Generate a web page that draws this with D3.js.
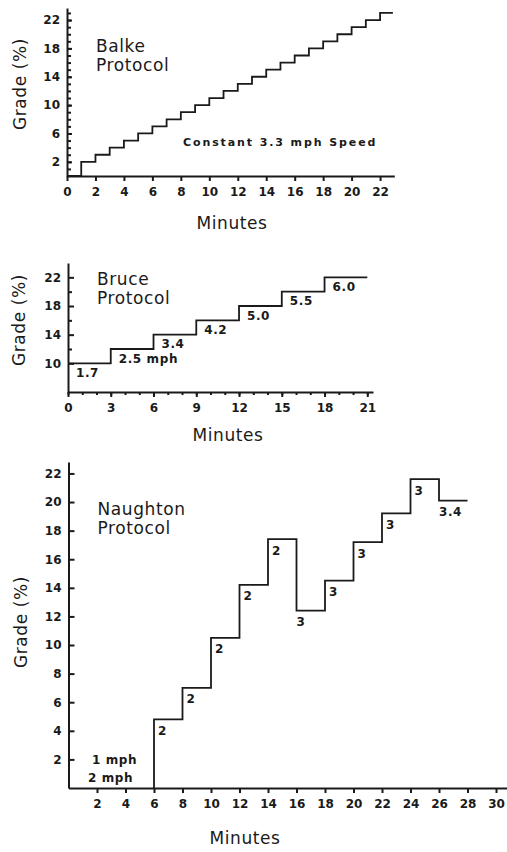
<!DOCTYPE html>
<html>
<head>
  <title>Treadmill Protocols</title>
  <style>
    body { margin: 0; background: #fff; }
    .chart { font-family: "DejaVu Sans", sans-serif; }
    .chart .axis path, .chart .axis line { stroke: #1a1a1a; stroke-width: 2; }
    .chart .axis .minor line { stroke-width: 1.5; }
    .chart .axis text { font-size: 12px; font-weight: bold; fill: #1a1a1a; font-family: "DejaVu Sans", sans-serif; }
    .chart .step { fill: none; stroke: #1a1a1a; stroke-width: 1.8; }
    .chart .title, .chart .label { font-size: 17px; fill: #1a1a1a; letter-spacing: 0.6px; }
    .chart .speed { font-size: 12px; font-weight: bold; fill: #1a1a1a; letter-spacing: 0.6px; }
    .chart .note { font-size: 11px; font-weight: bold; fill: #1a1a1a; letter-spacing: 1.9px; }
  </style>
</head>
<body>
  <svg id="chart" class="chart" width="507" height="852"></svg>

  <script src="https://d3js.org/d3.v7.min.js"></script>
  <script>
    // Balke: constant 3.3 mph, grade steps every minute
    const balkeStart = [0, 1, 2, 3, 4, 5, 6, 7, 8, 9, 10, 11, 12, 13, 14, 15, 16, 17, 18, 19, 20, 21, 22];
    const balkeGrade = [0, 2, 3, 4, 5, 6, 7, 8, 9, 10, 11, 12, 13, 14, 15, 16, 17, 18, 19, 20, 21, 22, 23];
    const balkeEnd = 22.9;
    const balkeXTicks = [0, 2, 4, 6, 8, 10, 12, 14, 16, 18, 20, 22];
    const balkeYTicks = [2, 6, 10, 14, 18, 22];
    const balkeNote = 'Constant 3.3 mph Speed';

    // Bruce: 3 minute stages
    const bruceStart = [0, 3, 6, 9, 12, 15, 18];
    const bruceGrade = [10, 12, 14, 16, 18, 20, 22];
    const bruceSpeed = ['1.7', '2.5 mph', '3.4', '4.2', '5.0', '5.5', '6.0'];
    const bruceEnd = 21;
    const bruceXTicks = [0, 3, 6, 9, 12, 15, 18, 21];
    const bruceYTicks = [10, 14, 18, 22];

    // Naughton: 2 minute stages after 6 minutes at 0%
    const naughtonStart = [6, 8, 10, 12, 14, 16, 18, 20, 22, 24, 26];
    const naughtonGrade = [4.8, 7, 10.5, 14.2, 17.4, 12.4, 14.5, 17.2, 19.2, 21.6, 20.1];
    const naughtonSpeed = ['2', '2', '2', '2', '2', '3', '3', '3', '3', '3', '3.4'];
    const naughtonEnd = 28;
    const naughtonWarmup = ['1 mph', '2 mph'];
    const naughtonXTicks = [2, 4, 6, 8, 10, 12, 14, 16, 18, 20, 22, 24, 26, 28, 30];
    const naughtonYTicks = [2, 4, 6, 8, 10, 12, 14, 16, 18, 20, 22];

    const svg = d3.select('#chart');

    function stepPoints(starts, grades, end, base) {
      const pts = starts.map((s, i) => [s, grades[i]]);
      if (base != null) pts.unshift([starts[0], base]);
      pts.push([end, grades[grades.length - 1]]);
      return pts;
    }

    function drawPanel(p) {
      const g = svg.append('g');
      const x = d3.scaleLinear().domain(p.xDomain).range(p.xRange);
      const y = d3.scaleLinear().domain(p.yDomain).range(p.yRange);

      // minor ticks first
      if (p.yMinor) {
        g.append('g').attr('class', 'axis minor')
          .attr('transform', `translate(${p.xRange[0]},0)`)
          .call(d3.axisLeft(y).tickValues(p.yMinor).tickSize(-4).tickSizeOuter(0).tickFormat(''))
          .select('.domain').remove();
      }
      if (p.xMinor) {
        g.append('g').attr('class', 'axis minor')
          .attr('transform', `translate(0,${p.yRange[0]})`)
          .call(d3.axisBottom(x).tickValues(p.xMinor).tickSize(3).tickSizeOuter(0).tickFormat(''))
          .select('.domain').remove();
      }

      g.append('g').attr('class', 'axis')
        .attr('transform', `translate(${p.xRange[0]},0)`)
        .call(d3.axisLeft(y).tickValues(p.yTicks).tickSize(-p.yTickLen).tickSizeOuter(0).tickPadding(7));

      g.append('g').attr('class', 'axis')
        .attr('transform', `translate(0,${p.yRange[0]})`)
        .call(d3.axisBottom(x).tickValues(p.xTicks).tickSize(5).tickSizeOuter(0).tickPadding(6));

      const line = d3.line().x(d => x(d[0])).y(d => y(d[1])).curve(d3.curveStepAfter);
      g.append('path').attr('class', 'step').attr('d', line(p.points));

      // protocol name
      const t = g.append('text').attr('class', 'title')
        .attr('x', p.xRange[0] + 29).attr('y', p.titleY);
      t.append('tspan').attr('x', p.xRange[0] + 29).text(p.name);
      t.append('tspan').attr('x', p.xRange[0] + 29).attr('dy', 19).text('Protocol');

      // axis titles
      g.append('text').attr('class', 'label')
        .attr('text-anchor', 'middle')
        .attr('transform', `translate(${p.gradeX},${p.gradeY}) rotate(-90)`)
        .text('Grade (%)');
      g.append('text').attr('class', 'label')
        .attr('text-anchor', 'middle')
        .attr('x', p.minX).attr('y', p.minY)
        .text('Minutes');
      return { g, x, y };
    }

    // Balke
    const balke = drawPanel({
      name: 'Balke',
      xDomain: [0, 23], xRange: [67, 394.3],
      yDomain: [0, 23.7], yRange: [176, 8],
      xTicks: balkeXTicks, yTicks: balkeYTicks, yTickLen: 5,
      yMinor: d3.range(1, 24),
      points: stepPoints(balkeStart, balkeGrade, balkeEnd),
      titleY: 52, gradeX: 26, gradeY: 84, minX: 232, minY: 229
    });
    balke.g.append('text').attr('class', 'note')
      .attr('x', 183).attr('y', 146)
      .text(balkeNote);

    // Bruce
    const bruce = drawPanel({
      name: 'Bruce',
      xDomain: [6 * 0, 21.4], xRange: [68, 373],
      yDomain: [6, 24], yRange: [392, 263],
      xTicks: bruceXTicks, yTicks: bruceYTicks, yTickLen: 6,
      yMinor: [12, 16, 20], xMinor: d3.range(0, 22),
      points: stepPoints(bruceStart, bruceGrade, bruceEnd),
      titleY: 285, gradeX: 25, gradeY: 320, minX: 228, minY: 441
    });
    bruce.g.selectAll('.speed')
      .data(bruceSpeed)
      .enter()
      .append('text')
      .attr('class', 'speed')
      .attr('x', (d, i) => bruce.x(bruceStart[i]) + 8)
      .attr('y', (d, i) => bruce.y(bruceGrade[i]) + 13.5)
      .text(d => d);

    // Naughton
    const naughton = drawPanel({
      name: 'Naughton',
      xDomain: [0, 30.8], xRange: [68.5, 507.4],
      yDomain: [0, 22.8], yRange: [788, 462],
      xTicks: naughtonXTicks, yTicks: naughtonYTicks, yTickLen: 6,
      points: stepPoints(naughtonStart, naughtonGrade, naughtonEnd, 0),
      titleY: 515, gradeX: 27, gradeY: 622, minX: 245, minY: 844
    });
    naughton.g.selectAll('.speed')
      .data(naughtonSpeed)
      .enter()
      .append('text')
      .attr('class', 'speed')
      .attr('x', (d, i) => {
        const rise = i === 0 || naughtonGrade[i] > naughtonGrade[i - 1];
        return naughton.x(naughtonStart[i]) + (rise ? 4 : 0);
      })
      .attr('y', (d, i) => naughton.y(naughtonGrade[i]) + 15.5)
      .text(d => d);
    naughton.g.selectAll('.warmup')
      .data(naughtonWarmup)
      .enter()
      .append('text')
      .attr('class', 'speed warmup')
      .attr('x', (d, i) => naughton.x(i === 0 ? 1.65 : 1.37))
      .attr('y', (d, i) => naughton.y(i === 0 ? 1.96 : 0.7) + 4.5)
      .text(d => d);
  </script>
</body>
</html>
